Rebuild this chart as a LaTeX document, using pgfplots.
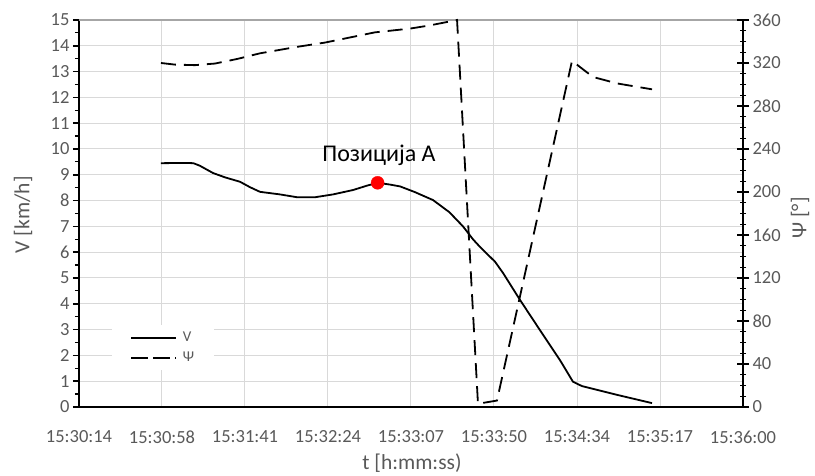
\documentclass[border=0pt]{standalone}
\usepackage{fontspec}
\setmainfont{Carlito}
\usepackage{pgfplots}
\pgfplotsset{compat=1.18}
\definecolor{txt}{HTML}{595959}
\definecolor{gridc}{HTML}{D9D9D9}
\pgfplotstableread{
t v
42.7 9.45
55.2 9.46
59.6 9.45
63.0 9.35
69.8 9.07
76.1 8.90
83.9 8.73
89.1 8.52
94.3 8.34
104.7 8.24
113.6 8.13
123.0 8.13
132.4 8.24
142.8 8.41
150.1 8.58
155.6 8.69
162.1 8.62
167.3 8.55
175.0 8.33
184.5 8.02
193.0 7.55
200.1 7.00
205.3 6.50
209.0 6.20
216.8 5.63
221.0 5.19
229.8 4.15
240.2 2.98
250.6 1.82
257.4 0.98
262.1 0.81
280.4 0.47
298.6 0.15
}\vtab
\pgfplotstableread{
t psi
42.7 320
50.0 318.5
60.4 318
70.9 319.5
82.3 323.7
94.3 329
113.6 335
128.2 339
154.2 348.5
172.5 352
182.9 355
197.0 360
207.9 3
217.8 6
256.9 322
267.8 307
280.4 301
298.6 295.5
}\psitab
\begin{document}
\begin{tikzpicture}
\path[use as bounding box] (-79pt,-69pt) rectangle (736pt,407pt);
\begin{axis}[
  scale only axis, width=664pt, height=387pt,
  xmin=0, xmax=346, ymin=0, ymax=15,
  axis x line*=bottom, axis y line*=left,
  axis line style={black, line width=2pt},
  xtick={0,43.25,86.5,129.75,173,216.25,259.5,302.75,346},
  xticklabels={15:30:14,15:30:58,15:31:41,15:32:24,15:33:07,15:33:50,15:34:34,15:35:17,15:36:00},
  ytick={0,1,...,15},
  minor ytick={0.5,1.5,...,14.5},
  major x tick style={draw=none},
  major y tick style={black, line width=1.5pt},
  minor y tick style={black, line width=1.2pt},
  tick align=outside,
  major tick length=6pt, minor tick length=4pt,
  grid=major, grid style={gridc, line width=1pt},
  tick label style={font=\fontsize{18.5}{22}\selectfont, text=txt},
  xticklabel style={yshift=-14pt},
  /pgf/number format/assume math mode=true,
  xlabel={t [h:mm:ss)}, ylabel={V [km/h]},
  label style={font=\fontsize{21.5}{25}\selectfont, text=txt},
  xlabel style={at={(axis description cs:0.5015,-0.1447)}, anchor=center},
  ylabel style={at={(axis description cs:-0.0843,0.497)}, anchor=center},
  legend style={at={(axis description cs:0.0497,0.212)}, anchor=north west,
    draw=none, fill=white, font=\fontsize{15}{17}\selectfont, text=txt,
    inner xsep=18pt, inner ysep=5pt, row sep=5pt, column sep=4pt},
  legend cell align=left,
  legend image code/.code={\draw[#1] (0pt,0pt) -- (45pt,0pt);},
  clip=false,
]
\draw[gray!70, line width=1.5pt] (rel axis cs:0,1) -- (rel axis cs:1,1);
\addplot[black, line width=1.8pt] table[x=t, y=v] {\vtab};
\addlegendentry{V}
\addlegendimage{black, line width=1.8pt, dash pattern=on 17pt off 5pt}
\addlegendentry{Ψ}
\addplot[only marks, mark=*, mark size=6.5pt, red, forget plot] coordinates {(155.6,8.69)};
\node[font=\fontsize{24}{28}\selectfont, text=black] at (axis cs:156.3,9.77) {Позиција A};
\end{axis}
\begin{axis}[
  scale only axis, width=664pt, height=387pt,
  xmin=0, xmax=346, ymin=0, ymax=360,
  axis x line=none, axis y line*=right,
  axis line style={black, line width=1.5pt},
  ytick={0,40,...,360},
  minor y tick num=3,
  major y tick style={black, line width=1.5pt},
  minor y tick style={black, line width=1.2pt},
  tick align=center,
  major tick length=12pt, minor tick length=6pt,
  tick label style={font=\fontsize{18.5}{22}\selectfont, text=txt},
  /pgf/number format/assume math mode=true,
  ylabel={Ψ [°]},
  label style={font=\fontsize{21.5}{25}\selectfont, text=txt},
  ylabel style={at={(axis description cs:1.086,0.488)}, anchor=center, rotate=0},
  clip=false,
]
\addplot[black, line width=1.8pt, dash pattern=on 15pt off 8pt] table[x=t, y=psi] {\psitab};
\end{axis}
\end{tikzpicture}
\end{document}
